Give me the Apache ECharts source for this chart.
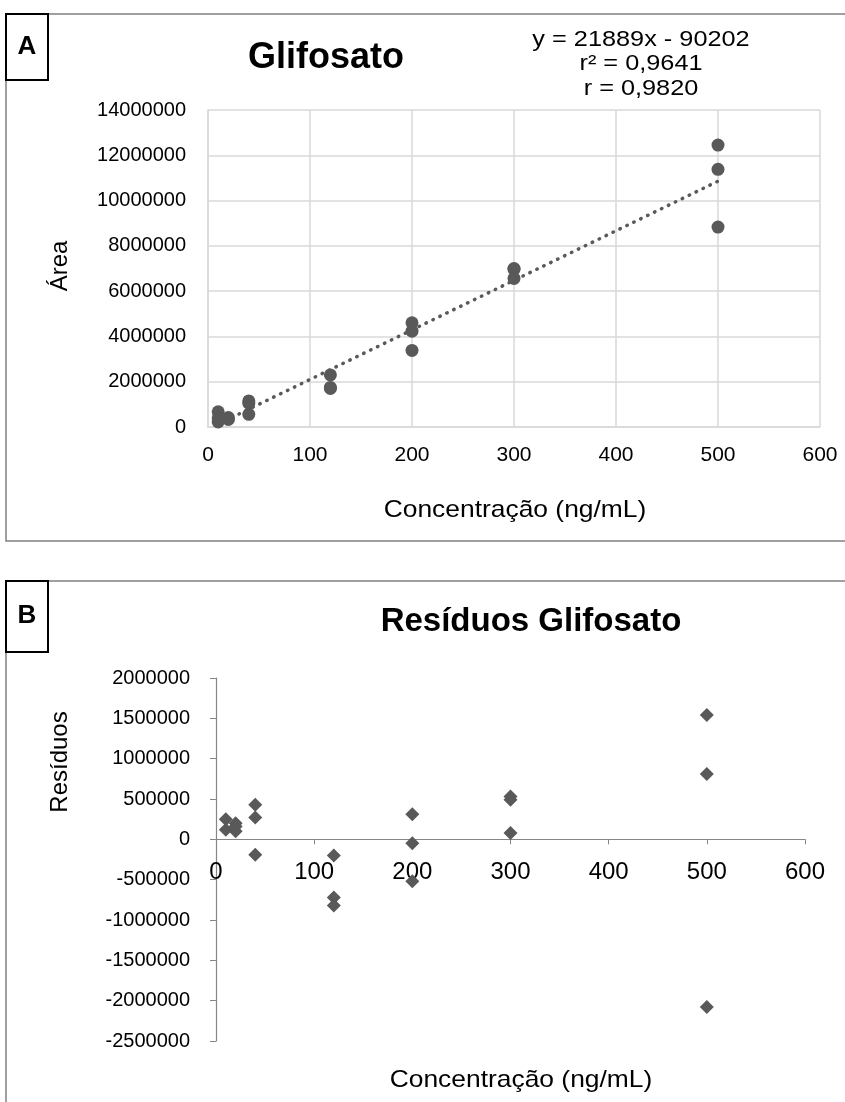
<!DOCTYPE html>
<html><head><meta charset="utf-8">
<script src="https://cdn.jsdelivr.net/npm/echarts@6/dist/echarts.min.js"></script>
<style>html,body{margin:0;padding:0;background:#fff}#c{width:845px;height:1102px}</style>
</head><body><div id="c"></div>
<script>
// Panel A: calibration data
const concA = [10, 10, 10, 20, 20, 40, 40, 40, 120, 120, 120, 200, 200, 200, 300, 300, 300, 500, 500, 500];
const areaA = [670000, 400000, 220000, 420000, 330000, 1150000, 1050000, 560000, 2300000, 1750000, 1700000, 4600000, 4230000, 3380000, 7000000, 6970000, 6560000, 12450000, 11380000, 8830000];
// Panel B: residuals
const concB = [10, 10, 20, 20, 20, 40, 40, 40, 120, 120, 120, 200, 200, 200, 300, 300, 300, 500, 500, 500];
const residB = [250000, 120000, 200000, 160000, 100000, 430000, 270000, -190000, -200000, -720000, -820000, 310000, -50000, -520000, 530000, 490000, 80000, 1540000, 810000, -2080000];
// Regression line (from equation shown)
const slope = 21889, intercept = -90202;
const trendRange = [10, 500];
const eqLines = ['y = 21889x - 90202', 'r² = 0,9641', 'r = 0,9820'];
const xTicks = {min: 0, max: 600, step: 100};
const yTicksA = {min: 0, max: 14000000, step: 2000000};
const yTicksB = {min: -2500000, max: 2000000, step: 500000};

const FF = "'Liberation Sans', Arial, sans-serif";
const chart = echarts.init(document.getElementById('c'), null, {renderer: 'canvas'});
const lbl = (fs) => ({fontSize: fs, color: '#000', fontFamily: FF});

function txt(x, y, s, size, bold, rot, sx) {
  return {type: 'text', x: x, y: y, rotation: rot || 0, scaleX: sx || 1, z: 10,
    style: {text: s, font: (bold ? 'bold ' : '') + size + 'px ' + FF, fill: '#000', textAlign: 'center', textVerticalAlign: 'middle'}};
}

chart.setOption({
  animation: false,
  grid: [
    {left: 208, top: 110, width: 612, height: 317},
    {left: 216, top: 678, width: 589, height: 363},
    {left: 216, top: 678, width: 589, height: 160}
  ],
  xAxis: [
    {type: 'value', gridIndex: 0, min: xTicks.min, max: xTicks.max, interval: xTicks.step,
     axisLine: {show: true, lineStyle: {color: '#d9d9d9', width: 1.5}}, axisTick: {show: false},
     splitLine: {show: true, lineStyle: {color: '#d9d9d9', width: 1.5}},
     axisLabel: Object.assign({margin: 18}, lbl(21))},
    {type: 'value', gridIndex: 1, min: xTicks.min, max: xTicks.max, interval: xTicks.step,
     axisLine: {show: true, onZero: true, lineStyle: {color: '#868686', width: 1.2}},
     axisTick: {show: true, length: 5, lineStyle: {color: '#868686'}},
     splitLine: {show: false},
     axisLabel: {show: false}},
    {type: 'value', gridIndex: 2, min: xTicks.min, max: xTicks.max, interval: xTicks.step,
     axisLine: {show: false}, axisTick: {show: false}, splitLine: {show: false},
     axisLabel: Object.assign({margin: 22}, lbl(24))}
  ],
  yAxis: [
    {type: 'value', gridIndex: 0, min: yTicksA.min, max: yTicksA.max, interval: yTicksA.step,
     axisLine: {show: true, lineStyle: {color: '#d9d9d9', width: 1.5}}, axisTick: {show: false},
     splitLine: {show: true, lineStyle: {color: '#d9d9d9', width: 1.5}},
     axisLabel: Object.assign({margin: 22, formatter: v => String(v)}, lbl(20))},
    {type: 'value', gridIndex: 1, min: yTicksB.min, max: yTicksB.max, interval: yTicksB.step,
     axisLine: {show: true, onZero: false, lineStyle: {color: '#868686', width: 1.2}},
     axisTick: {show: true, length: 6, lineStyle: {color: '#868686'}},
     splitLine: {show: false},
     axisLabel: Object.assign({margin: 26, formatter: v => String(v)}, lbl(20))},
    {type: 'value', gridIndex: 2, min: 0, max: 1, show: false}
  ],
  series: [
    {type: 'line', xAxisIndex: 0, yAxisIndex: 0, symbol: 'none', z: 1,
     data: trendRange.map(x => [x, slope * x + intercept]),
     lineStyle: {color: '#595959', width: 3.5, type: [0.5, 7.2], cap: 'round'}},
    {type: 'scatter', xAxisIndex: 0, yAxisIndex: 0, symbol: 'circle', symbolSize: 13, z: 2,
     itemStyle: {color: '#595959', opacity: 1},
     data: concA.map((x, i) => [x, areaA[i]])},
    {type: 'scatter', xAxisIndex: 1, yAxisIndex: 1, symbol: 'diamond', symbolSize: 14, z: 2,
     itemStyle: {color: '#595959', opacity: 1},
     data: concB.map((x, i) => [x, residB[i]])}
  ],
  graphic: [
    {type: 'rect', z: 0, shape: {x: 6, y: 14, width: 860, height: 527}, style: {fill: 'none', stroke: '#808080', lineWidth: 1.5}},
    {type: 'rect', z: 0, shape: {x: 6, y: 581, width: 860, height: 600}, style: {fill: 'none', stroke: '#808080', lineWidth: 1.5}},
    {type: 'rect', z: 5, shape: {x: 6, y: 14, width: 42, height: 66}, style: {fill: '#fff', stroke: '#000', lineWidth: 2}},
    {type: 'rect', z: 5, shape: {x: 6, y: 581, width: 42, height: 71}, style: {fill: '#fff', stroke: '#000', lineWidth: 2}},
    txt(27, 47, 'A', 26, true),
    txt(27, 616, 'B', 26, true),
    txt(326, 58, 'Glifosato', 36, true),
    txt(641, 40, eqLines[0], 22, false, 0, 1.15),
    txt(641, 64, eqLines[1], 22, false, 0, 1.15),
    txt(641, 89, eqLines[2], 22, false, 0, 1.15),
    txt(60, 266, 'Área', 24, false, Math.PI / 2),
    txt(515, 510, 'Concentração (ng/mL)', 24, false, 0, 1.1),
    txt(531, 622, 'Resíduos Glifosato', 33, true),
    txt(60, 762, 'Resíduos', 24, false, Math.PI / 2),
    txt(521, 1080, 'Concentração (ng/mL)', 24, false, 0, 1.1)
  ]
});
</script></body></html>
